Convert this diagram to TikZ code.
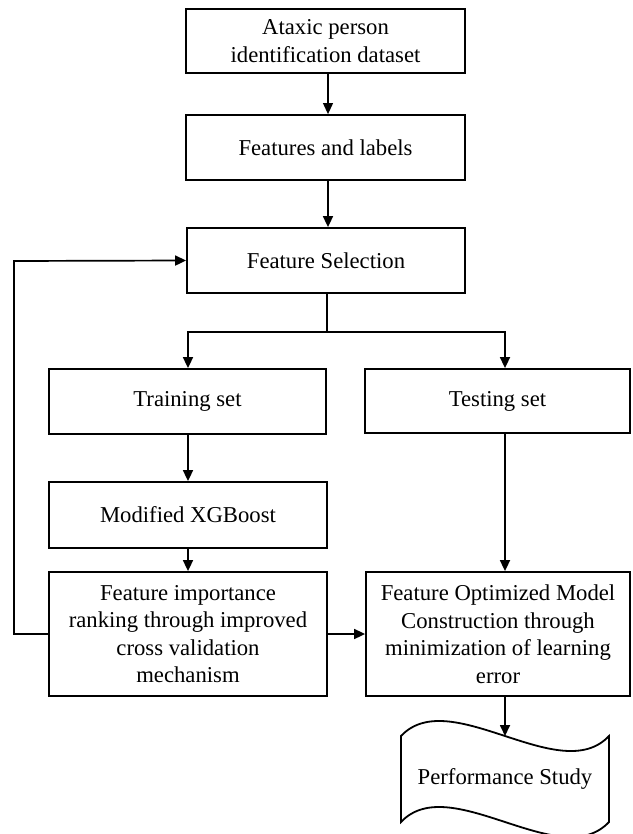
\documentclass[tikz,border=0pt]{standalone}
\usepackage{fontspec}
\setmainfont{Liberation Serif}
\usetikzlibrary{arrows.meta}
\begin{document}
\begin{tikzpicture}[x=1pt,y=-1pt,
  box/.style={draw,line width=1.8pt,inner sep=0pt,align=center,
    font=\fontsize{22.7}{27.5}\selectfont},
  conn/.style={line width=1.7pt,-{Triangle[length=11pt,width=10pt]}},
  thinconn/.style={line width=1.1pt,-{Triangle[length=11pt,width=10pt]}},
  wire/.style={line width=1.7pt}]
\useasboundingbox (0,0) rectangle (632,834);

\node[box,minimum width=279pt,minimum height=64pt] (ds) at (325.5,41) {Ataxic person\\identification dataset};
\node[box,minimum width=279pt,minimum height=65pt] (fl) at (325.5,147.5) {Features and labels};
\node[box,minimum width=278pt,minimum height=65pt] (fs) at (326,260.5) {Feature Selection};
\node[box,minimum width=277pt,minimum height=65pt] (tr) at (187.5,401.5) {Training set};
\node[box,minimum width=265pt,minimum height=64pt] (te) at (497.5,401) {Testing set};
\node[box,minimum width=278pt,minimum height=66pt] (xg) at (188,515) {Modified XGBoost};
\node[box,minimum width=278pt,minimum height=124pt] (fi) at (188,634) {Feature importance\\ranking through improved\\cross validation\\mechanism};
\node[box,minimum width=264pt,minimum height=124pt] (fo) at (498,634) {Feature Optimized Model\\Construction through\\minimization of learning\\error};

% document shape
\draw[line width=1.8pt] (401,736) .. controls (450,684) and (560,788) .. (609,736)
  -- (609,822) .. controls (560,874) and (450,770) .. (401,822) -- cycle;
\node[font=\fontsize{22.7}{27.5}\selectfont,inner sep=0pt] (ps) at (505,779) {Performance Study};
\coordinate (psTop) at (505,736);

% connectors
\draw[thinconn] (ds.south -| 328,0) -- (fl.north -| 328,0);
\draw[conn] (fl.south -| 328,0) -- (fs.north -| 328,0);

\coordinate (split) at (327,332);
\draw[wire] (fs.south -| split) -- (split);
\draw[conn] (split) -| (tr.north -| 188,0);
\draw[conn] (split) -| (te.north -| 505,0);

\draw[conn] (tr.south -| 188,0) -- (xg.north -| 188,0);
\draw[conn] (xg.south -| 188,0) -- (fi.north -| 188,0);
\draw[conn] (te.south -| 505,0) -- (fo.north -| 505,0);
\draw[conn] (fi.east) -- (fo.west);
\draw[conn] (fo.south -| 505,0) -- (psTop);

\coordinate (fbBot) at (14,634);
\coordinate (fbTop) at (14,261);
\draw[conn] (fi.west) -- (fbBot) -- (fbTop) -- (fs.west);
\end{tikzpicture}
\end{document}
